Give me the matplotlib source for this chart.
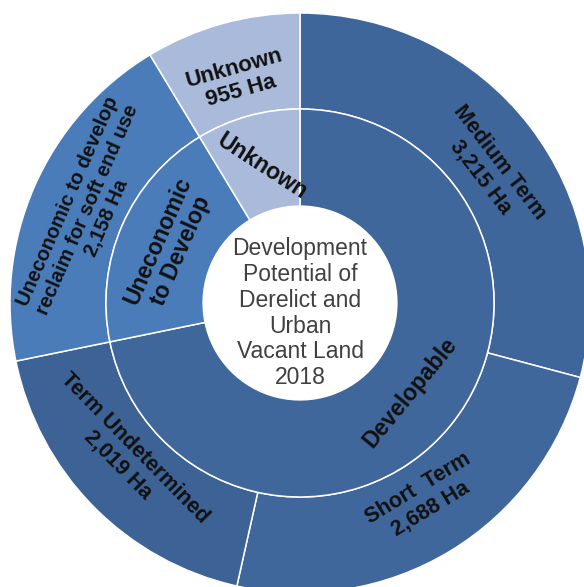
import numpy as np
import matplotlib.pyplot as plt

plt.rcParams['font.family'] = ['Liberation Sans', 'DejaVu Sans']

# data
outer_labels = ['Medium Term\n3,215 Ha', 'Short  Term\n2,688 Ha', 'Term Undetermined\n2,019 Ha',
                'Uneconomic to develop\nreclaim for soft end use\n2,158 Ha', 'Unknown\n955 Ha']
outer_values = [3215, 2688, 2019, 2158, 955]
outer_parent = [0, 0, 0, 1, 2]
inner_labels = ['Developable', 'Uneconomic\nto Develop', 'Unknown']
inner_values = [sum(v for v, p in zip(outer_values, outer_parent) if p == i) for i in range(3)]
centre_text = 'Development\nPotential of\nDerelict and\nUrban\nVacant Land\n2018'

inner_colors = ['#40679b', '#4a7cba', '#a9badb']
outer_colors = ['#3f669a', '#40679b', '#3d6396', '#4a7cba', '#a9badb']

r_out, r_mid, r_hole = 1.0, 0.669, 0.334

fig = plt.figure(figsize=(5.84, 5.87), dpi=100)
ax = fig.add_axes([0, 0, 1, 1])

ax.pie(outer_values, radius=r_out, startangle=90, counterclock=False, colors=outer_colors,
       wedgeprops=dict(width=r_out - r_mid, edgecolor='white', linewidth=1.1))
ax.pie(inner_values, radius=r_mid, startangle=90, counterclock=False, colors=inner_colors,
       wedgeprops=dict(width=r_mid - r_hole, edgecolor='white', linewidth=1.1))


def mid_angles(vals):
    tot = float(sum(vals))
    c = np.cumsum([0] + list(vals))
    return [90 - 360 * (c[i] + vals[i] / 2) / tot for i in range(len(vals))]


def tang_rot(a):
    r = a - 90
    while r < -90:
        r += 180
    while r > 90:
        r -= 180
    return r


# small nudges of label angle (deg) to match the original placement
outer_nudge = [-2.5, 1.2, -3.0, 0, 0]
outer_fs = [15.5, 15.5, 15.5, 14.5, 16]
for lab, a, dn, fs in zip(outer_labels, mid_angles(outer_values), outer_nudge, outer_fs):
    t = np.radians(a + dn)
    ax.text(0.80 * np.cos(t), 0.80 * np.sin(t), lab, rotation=tang_rot(a), rotation_mode='anchor',
            ha='center', va='center', multialignment='center', fontsize=fs, fontweight='bold',
            color='#111111', linespacing=1.15)

inner_rot = [None, None, -33]
for lab, a, rr in zip(inner_labels, mid_angles(inner_values), inner_rot):
    t = np.radians(a)
    rot = tang_rot(a) if rr is None else rr
    ax.text(0.49 * np.cos(t), 0.49 * np.sin(t), lab, rotation=rot, rotation_mode='anchor',
            ha='center', va='center', multialignment='center', fontsize=16.5, fontweight='bold',
            color='#111111', linespacing=1.1)

ax.text(0, -0.035, centre_text, ha='center', va='center', multialignment='center',
        fontsize=16.5, color='#404040', linespacing=1.16)

ax.set_aspect('auto')
ax.set_xlim(-300 / 290, 284 / 290)
ax.set_ylim(-284 / 290, 303 / 290)
ax.axis('off')

plt.savefig('out.png', dpi=100)
